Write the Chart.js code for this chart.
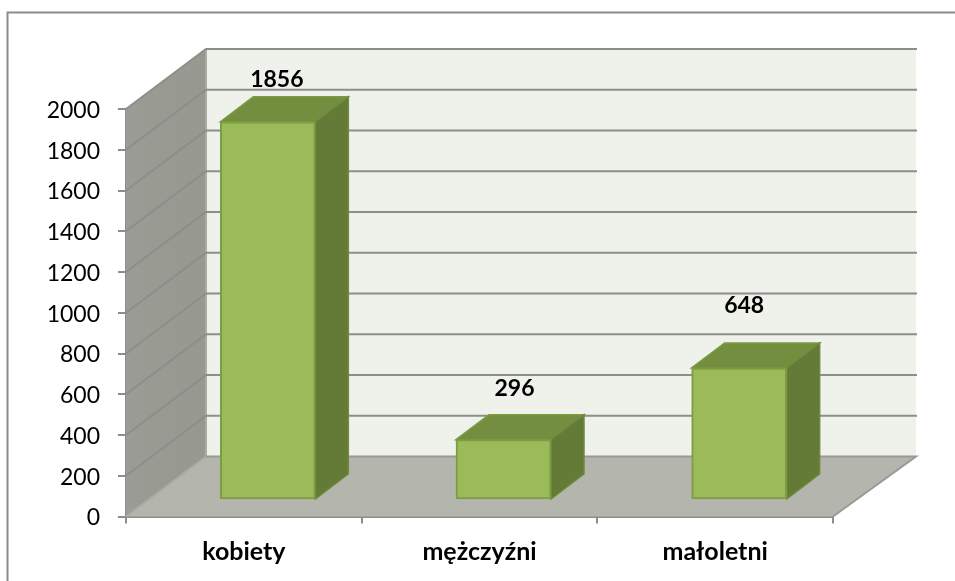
<!DOCTYPE html>
<html><head><meta charset="utf-8">
<style>html,body{margin:0;padding:0;background:#fff}canvas{display:block}</style>
<script src="https://cdn.jsdelivr.net/npm/chart.js@4"></script>
</head><body><canvas id="c" width="955" height="581"></canvas>
<script>
const categories = ["kobiety", "mężczyźni", "małoletni"];
const seriesValues = [1856, 296, 648];
const yTickValues = [0, 200, 400, 600, 800, 1000, 1200, 1400, 1600, 1800, 2000];

// 3D projection used by the drawing plugin
const WALL_DX = 80, WALL_DY = 60, WALL_RIGHT = 916;
const BAR_SHIFT_X = 24, BAR_SHIFT_Y = -16.5, BAR_DX = 33, BAR_DY = 25;
const LABEL_SHIFT = [[33, -42], [35, -51], [29, -62]];
const Y_LABEL_NUDGE = 1.5;
const FONT = "Lato, Carlito, sans-serif";
const GRID = "#8d8e8a";

function poly(ctx, pts, fill, stroke, lw) {
  ctx.beginPath();
  pts.forEach((p, i) => i ? ctx.lineTo(p[0], p[1]) : ctx.moveTo(p[0], p[1]));
  ctx.closePath();
  if (fill) { ctx.fillStyle = fill; ctx.fill(); }
  if (stroke) { ctx.strokeStyle = stroke; ctx.lineWidth = lw || 1; ctx.stroke(); }
}

const scene = {
  id: "scene",
  beforeDraw(chart) {
    chart.scales.y.getLabelItems().forEach(it => {
      const t = it.options.translation;
      it.options.translation = [t[0], t[1] + Y_LABEL_NUDGE];
    });
  },
  beforeDatasetsDraw(chart) {
    const { ctx, scales: { x, y } } = chart;
    const x0 = x.left, xr = x.right;
    const yB = y.getPixelForValue(yTickValues[0]);
    const yT = y.getPixelForValue(yTickValues[yTickValues.length - 1]);
    ctx.save();
    // outer frame
    ctx.strokeStyle = "#8c8c8c"; ctx.lineWidth = 2;
    ctx.beginPath(); ctx.moveTo(7.5, 581); ctx.lineTo(7.5, 12.5); ctx.lineTo(955, 12.5); ctx.stroke();
    // back wall
    poly(ctx, [[x0 + WALL_DX, yT - WALL_DY], [WALL_RIGHT, yT - WALL_DY], [WALL_RIGHT, yB - WALL_DY], [x0 + WALL_DX, yB - WALL_DY]], "#eff1eb");
    // side wall
    const g = ctx.createLinearGradient(x0, 0, x0 + WALL_DX, 0);
    g.addColorStop(0, "#9a9c95"); g.addColorStop(1, "#97998f");
    poly(ctx, [[x0, yT], [x0 + WALL_DX, yT - WALL_DY], [x0 + WALL_DX, yB - WALL_DY], [x0, yB]], g);
    // floor
    poly(ctx, [[x0, yB], [x0 + WALL_DX, yB - WALL_DY], [WALL_RIGHT, yB - WALL_DY], [xr, yB]], "#b4b6ae");
    // wall edges
    ctx.strokeStyle = "#a9aba5"; ctx.lineWidth = 2;
    ctx.beginPath(); ctx.moveTo(x0 + WALL_DX, yT - WALL_DY); ctx.lineTo(x0 + WALL_DX, yB - WALL_DY); ctx.stroke();
    ctx.beginPath(); ctx.moveTo(x0, yB); ctx.lineTo(x0 + WALL_DX, yB - WALL_DY); ctx.stroke();
    ctx.strokeStyle = "#989a94";
    ctx.beginPath(); ctx.moveTo(x0 + WALL_DX, yB - WALL_DY); ctx.lineTo(WALL_RIGHT, yB - WALL_DY); ctx.lineTo(xr, yB); ctx.stroke();
    // grid lines on side and back walls
    ctx.strokeStyle = GRID; ctx.lineWidth = 2;
    yTickValues.slice(1).forEach(v => {
      const py = y.getPixelForValue(v);
      ctx.beginPath(); ctx.moveTo(x0, py); ctx.lineTo(x0 + WALL_DX, py - WALL_DY); ctx.lineTo(WALL_RIGHT + 1, py - WALL_DY); ctx.stroke();
    });
    // bar top and side faces
    chart.getDatasetMeta(0).data.forEach(b => {
      const L = b.x - b.width / 2 + BAR_SHIFT_X, R = b.x + b.width / 2 + BAR_SHIFT_X;
      const T = b.y + BAR_SHIFT_Y, B = b.base + BAR_SHIFT_Y;
      poly(ctx, [[L, T], [L + BAR_DX, T - BAR_DY], [R + BAR_DX, T - BAR_DY], [R, T]], "#738e3f", "#7b9a41", 1.5);
      poly(ctx, [[R, T], [R + BAR_DX, T - BAR_DY], [R + BAR_DX, B - BAR_DY], [R, B]], "#647a37", "#6f8a3c", 1.5);
    });
    ctx.restore();
    ctx.save();
    ctx.translate(BAR_SHIFT_X, BAR_SHIFT_Y);
  },
  afterDatasetsDraw(chart) {
    const { ctx } = chart;
    ctx.restore();
    ctx.save();
    ctx.fillStyle = "#000";
    ctx.font = "bold 23px " + FONT;
    ctx.textAlign = "center"; ctx.textBaseline = "middle";
    chart.getDatasetMeta(0).data.forEach((b, i) => {
      ctx.fillText(String(seriesValues[i]), b.x + LABEL_SHIFT[i][0], b.y + BAR_SHIFT_Y + LABEL_SHIFT[i][1]);
    });
    ctx.restore();
  }
};

new Chart(document.getElementById("c"), {
  type: "bar",
  data: {
    labels: categories,
    datasets: [{
      data: seriesValues,
      backgroundColor: "#9bbb59",
      borderColor: "#7d9c43",
      borderWidth: 2,
      borderSkipped: false,
      barThickness: 95,
      clip: false
    }]
  },
  plugins: [scene],
  options: {
    responsive: false,
    animation: false,
    events: [],
    layout: { padding: { top: 109, right: 122, left: 0, bottom: 0 } },
    plugins: { legend: { display: false }, title: { display: false }, tooltip: { enabled: false } },
    scales: {
      x: {
        afterFit(s) { s.height = 64.5; },
        grid: { drawOnChartArea: false, drawTicks: true, tickLength: 7, color: GRID, lineWidth: 2 },
        border: { display: true, color: GRID, width: 2 },
        ticks: { color: "#000", padding: 13, maxRotation: 0, font: { family: FONT, size: 25, weight: "bold" } }
      },
      y: {
        min: yTickValues[0],
        max: yTickValues[yTickValues.length - 1],
        afterFit(s) { s.width = 126; },
        afterBuildTicks(s) { s.ticks = yTickValues.map(v => ({ value: v })); },
        grid: { drawOnChartArea: false, drawTicks: true, tickLength: 8, color: GRID, lineWidth: 2 },
        border: { display: true, color: GRID, width: 2 },
        ticks: { color: "#000", padding: 18, callback: v => String(v), font: { family: FONT, size: 23 } }
      }
    }
  }
});
</script></body></html>
